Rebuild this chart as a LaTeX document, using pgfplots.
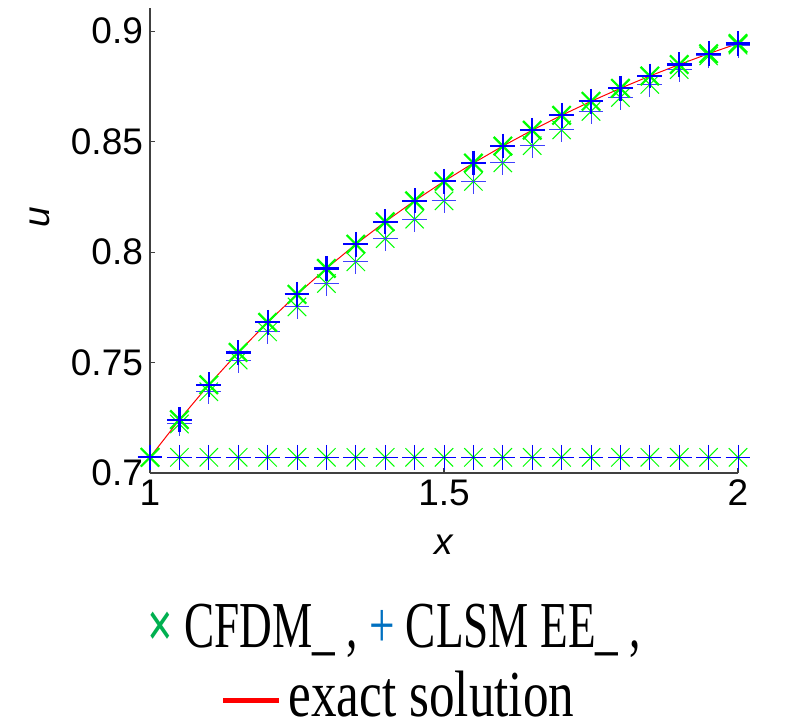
\documentclass[border=0pt]{standalone}
\usepackage{pgfplots}
\pgfplotsset{compat=1.18}
\usepackage{fontspec}
\setmainfont{Liberation Sans}
\newfontfamily\legfont{Liberation Serif}
\definecolor{lgreen}{HTML}{00B050}
\definecolor{lblue}{HTML}{0070C0}
\definecolor{mgreen}{HTML}{00FF00}
\definecolor{mblue}{HTML}{0000FF}
\begin{document}
\begin{tikzpicture}
\path[use as bounding box] (0,0) rectangle (406pt,-362.5pt);
\begin{axis}[
  at={(75pt,-236.5pt)}, anchor=south west,
  scale only axis, width=294pt, height=232.5pt,
  xmin=1, xmax=2, ymin=0.7, ymax=0.9105,
  axis lines=left, axis line style={-, line width=0.7pt, color=black!75},
  tick align=inside, major tick length=2.5pt,
  tick style={color=black!75, line width=0.6pt},
  xtick={1,1.5,2}, xticklabels={1,1.5,2},
  ytick={0.7,0.75,0.8,0.85,0.9}, yticklabels={0.7,0.75,0.8,0.85,0.9},
  ticklabel style={font=\fontsize{18.5}{18.5}\selectfont},
  /pgf/number format/assume math mode=true,
  xlabel={\textit{x}}, ylabel={\textit{u}},
  label style={font=\fontsize{18.5}{18.5}\selectfont},
  xlabel style={at={(axis description cs:0.5,-0.155)}, anchor=center},
  ylabel style={at={(axis description cs:-0.187,0.55)}, anchor=center},
  clip=false,
]
% exact solution
\addplot[red, line width=0.5pt, no marks] coordinates {
(1.00,0.70711)(1.05,0.72414)(1.10,0.73994)(1.15,0.75460)(1.20,0.76822)
(1.25,0.78087)(1.30,0.79262)(1.35,0.80356)(1.40,0.81373)(1.45,0.82322)
(1.50,0.83205)(1.55,0.84030)(1.60,0.84800)(1.65,0.85519)(1.70,0.86193)
(1.75,0.86824)(1.80,0.87416)(1.85,0.87971)(1.90,0.88491)(1.95,0.88982)
(2.00,0.89443)};
% flat row
\addplot[mgreen, only marks, mark=x, mark size=6.5pt, mark options={line width=0.5pt}] coordinates {
(1.00,0.7071)(1.05,0.7071)(1.10,0.7071)(1.15,0.7071)(1.20,0.7071)(1.25,0.7071)(1.30,0.7071)
(1.35,0.7071)(1.40,0.7071)(1.45,0.7071)(1.50,0.7071)(1.55,0.7071)(1.60,0.7071)(1.65,0.7071)
(1.70,0.7071)(1.75,0.7071)(1.80,0.7071)(1.85,0.7071)(1.90,0.7071)(1.95,0.7071)(2.00,0.7071)};
\addplot[mblue, only marks, mark=+, mark size=6.2pt, mark options={line width=0.5pt}] coordinates {
(1.00,0.7071)(1.05,0.7071)(1.10,0.7071)(1.15,0.7071)(1.20,0.7071)(1.25,0.7071)(1.30,0.7071)
(1.35,0.7071)(1.40,0.7071)(1.45,0.7071)(1.50,0.7071)(1.55,0.7071)(1.60,0.7071)(1.65,0.7071)
(1.70,0.7071)(1.75,0.7071)(1.80,0.7071)(1.85,0.7071)(1.90,0.7071)(1.95,0.7071)(2.00,0.7071)};
% intermediate (lower) row
\addplot[mgreen, only marks, mark=x, mark size=6.5pt, mark options={line width=0.5pt}] coordinates {
(1.05,0.7222)(1.10,0.7368)(1.15,0.7511)(1.20,0.7639)(1.25,0.7752)(1.30,0.7858)
(1.35,0.7956)(1.40,0.8061)(1.45,0.8149)(1.50,0.8232)(1.55,0.8320)(1.60,0.8404)
(1.65,0.8482)(1.70,0.8553)(1.75,0.8637)(1.80,0.8700)(1.85,0.8759)(1.90,0.8826)
(1.95,0.8888)(2.00,0.8937)};
\addplot[mblue!75!white, only marks, mark=+, mark size=6.2pt, mark options={line width=0.5pt}] coordinates {
(1.05,0.7222)(1.10,0.7368)(1.15,0.7511)(1.20,0.7639)(1.25,0.7752)(1.30,0.7858)
(1.35,0.7956)(1.40,0.8061)(1.45,0.8149)(1.50,0.8232)(1.55,0.8320)(1.60,0.8404)
(1.65,0.8482)(1.70,0.8553)(1.75,0.8637)(1.80,0.8700)(1.85,0.8759)(1.90,0.8826)
(1.95,0.8888)(2.00,0.8937)};
% final (upper) row
\addplot[mgreen, only marks, mark=x, mark size=6.5pt, mark options={line width=1.1pt}] coordinates {
(1.00,0.70711)(1.05,0.72414)(1.10,0.73994)(1.15,0.75460)(1.20,0.76822)
(1.25,0.78087)(1.30,0.79262)(1.35,0.80356)(1.40,0.81373)(1.45,0.82322)
(1.50,0.83205)(1.55,0.84030)(1.60,0.84800)(1.65,0.85519)(1.70,0.86193)
(1.75,0.86824)(1.80,0.87416)(1.85,0.87971)(1.90,0.88491)(1.95,0.88982)
(2.00,0.89443)};
\addplot[mblue, only marks, mark=+, mark size=6.2pt, mark options={line width=1.1pt}] coordinates {
(1.00,0.70711)(1.05,0.72414)(1.10,0.73994)(1.15,0.75460)(1.20,0.76822)
(1.25,0.78087)(1.30,0.79262)(1.35,0.80356)(1.40,0.81373)(1.45,0.82322)
(1.50,0.83205)(1.55,0.84030)(1.60,0.84800)(1.65,0.85519)(1.70,0.86193)
(1.75,0.86824)(1.80,0.87416)(1.85,0.87971)(1.90,0.88491)(1.95,0.88982)
(2.00,0.89443)};
\end{axis}
\node[anchor=base, inner sep=0pt] at (197pt,-323.5pt) {\scalebox{0.69}[1]{\legfont\fontsize{32.8}{36}\selectfont{\color{lgreen}\textbf{×}} CFDM\_ , {\color{lblue}+} CLSM EE\_ ,}};
\node[anchor=base, inner sep=0pt] at (199.3pt,-358pt) {\scalebox{0.78}[1]{\legfont\fontsize{32.8}{36}\selectfont{\color{red}\rule[0.42ex]{36pt}{2.6pt}}\kern6pt exact solution}};
\end{tikzpicture}
\end{document}
